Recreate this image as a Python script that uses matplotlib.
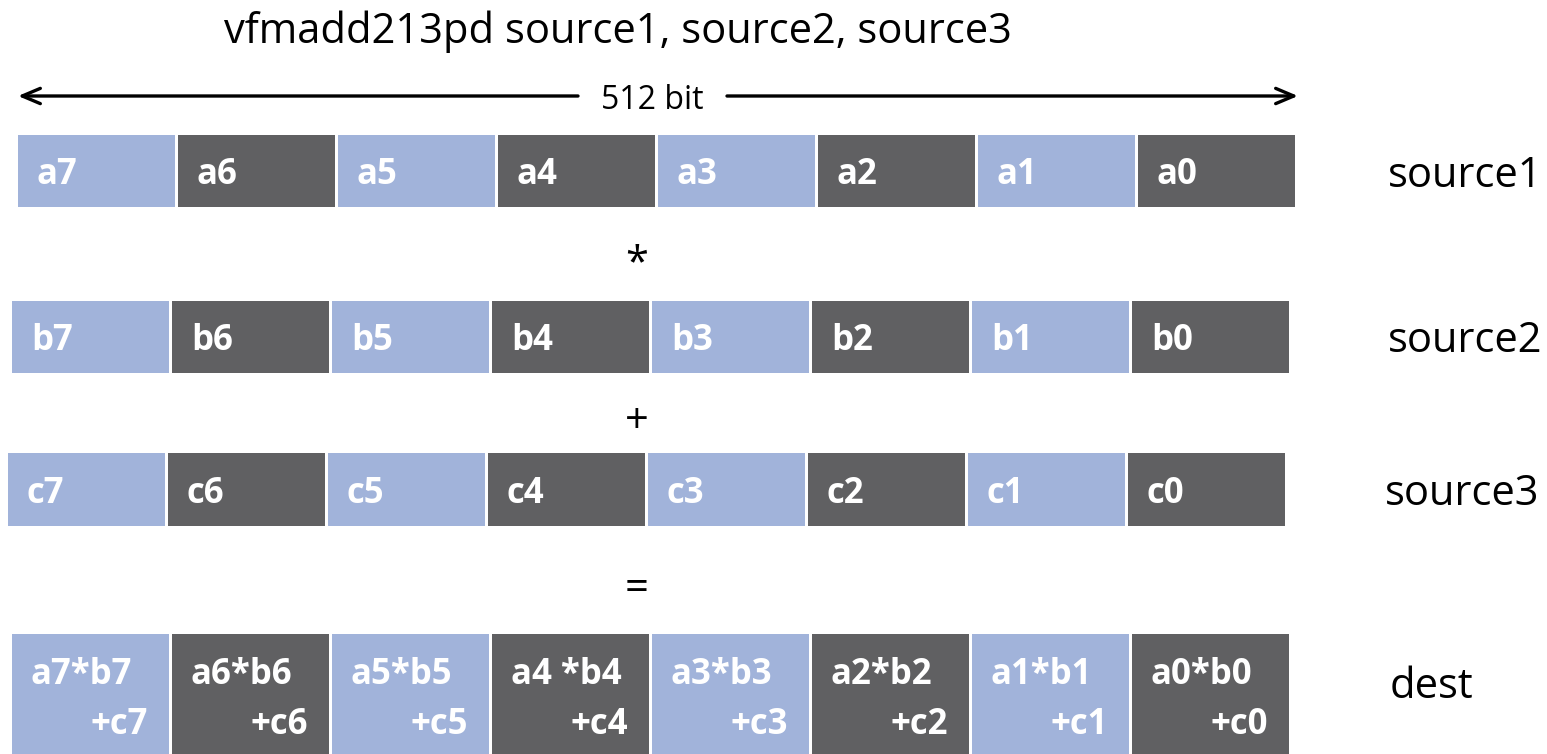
import matplotlib
matplotlib.use("Agg")
import matplotlib.pyplot as plt

# ---- data ----
title = "vfmadd213pd source1, source2, source3"
width_label = "512 bit"
src1_labels = ["a7", "a6", "a5", "a4", "a3", "a2", "a1", "a0"]
src2_labels = ["b7", "b6", "b5", "b4", "b3", "b2", "b1", "b0"]
src3_labels = ["c7", "c6", "c5", "c4", "c3", "c2", "c1", "c0"]
dest_top = ["a7*b7", "a6*b6", "a5*b5", "a4 *b4", "a3*b3", "a2*b2", "a1*b1", "a0*b0"]
dest_bot = ["+c7", "+c6", "+c5", "+c4", "+c3", "+c2", "+c1", "+c0"]
row_names = ["source1", "source2", "source3", "dest"]
operators = ["*", "+", "="]

LIGHT = "#A1B3DA"
DARK = "#606062"
FONT = ["Open Sans", "DejaVu Sans"]
LABEL_FS = 25
TEXT_FS = 30

W, H = 1547, 754
fig = plt.figure(figsize=(W / 100, H / 100), dpi=100)
ax = fig.add_axes([0, 0, 1, 1])
ax.set_xlim(0, W)
ax.set_ylim(H, 0)
ax.axis("off")

cell_w = 160
# (x0, y_top, height) per row
rows = [(18, 135, 72), (12, 301, 72), (8, 453, 73), (12, 634, 125)]

def draw_row(x0, y0, h, labels):
    for i, lab in enumerate(labels):
        col = LIGHT if i % 2 == 0 else DARK
        ax.bar(x0 + i * cell_w, h, width=cell_w - 3, bottom=y0, align="edge",
               color=col, edgecolor="none")
        ax.text(x0 + i * cell_w + 19, y0 + h / 2, lab, color="white",
                fontsize=LABEL_FS, fontweight="bold", family=FONT,
                va="center_baseline", ha="left")

draw_row(*rows[0], src1_labels)
draw_row(*rows[1], src2_labels)
draw_row(*rows[2], src3_labels)

x0, y0, h = rows[3]
for i, (t, b) in enumerate(zip(dest_top, dest_bot)):
    col = LIGHT if i % 2 == 0 else DARK
    ax.bar(x0 + i * cell_w, h, width=cell_w - 3, bottom=y0, align="edge",
           color=col, edgecolor="none")
    ax.text(x0 + i * cell_w + 19, y0 + 36, t, color="white", fontsize=LABEL_FS,
            fontweight="bold", family=FONT, va="center_baseline", ha="left")
    ax.text(x0 + (i + 1) * cell_w - 24, y0 + 87, b, color="white", fontsize=LABEL_FS,
            fontweight="bold", family=FONT, va="center_baseline", ha="right")

# row names
name_pos = [(1388, 171), (1388, 336), (1385, 489), (1390, 682)]
for n, (x, y) in zip(row_names, name_pos):
    ax.text(x, y, n, fontsize=TEXT_FS, family=FONT, va="center_baseline",
            ha="left", color="black")

# operators
for op, y in zip(operators, [264, 422, 589]):
    ax.text(637, y, op, fontsize=TEXT_FS, family=FONT, va="center", ha="center",
            color="black")

# title
ax.text(618, 43, title, fontsize=TEXT_FS, family=FONT, va="baseline",
        ha="center", color="black")

# width arrow
arrow_kw = dict(arrowstyle="->,head_length=1.3,head_width=0.55", lw=2.4,
                color="black", shrinkA=0, shrinkB=0)
ax.annotate("", xy=(18, 96), xytext=(578, 96), arrowprops=arrow_kw)
ax.annotate("", xy=(1298, 96), xytext=(727, 96), arrowprops=arrow_kw)
ax.text(652, 109, width_label, fontsize=23, family=FONT, va="baseline",
        ha="center", color="black")

fig.savefig("out.png", dpi=100)
